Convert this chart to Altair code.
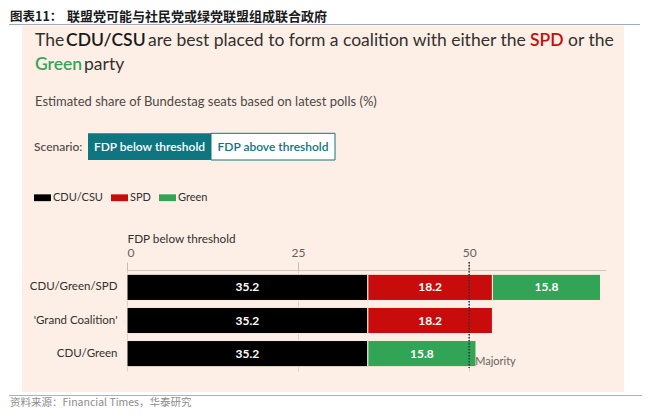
import altair as alt
import pandas as pd

# ---------------- data ----------------
coalitions = ["CDU/Green/SPD", "'Grand Coalition'", "CDU/Green"]
parties = ["CDU/CSU", "SPD", "Green"]
party_colors = ["#000000", "#c80c0c", "#31a456"]
cdu_values = [35.2, 35.2, 35.2]
spd_values = [18.2, 18.2, None]
green_values = [15.8, None, 15.8]
majority = [50]
x_ticks = [0, 25, 50]
x_domain = [0, 70]

rows = []
for i, c in enumerate(coalitions):
    for k, (p, vals) in enumerate(zip(parties, [cdu_values, spd_values, green_values])):
        v = vals[i]
        if v is not None:
            rows.append({"coalition": c, "party": p, "value": v, "order": k})
df = pd.DataFrame(rows)
df_maj = pd.DataFrame({"m": majority})
dummy = pd.DataFrame({"d": [0]})

FONT = "Lato"
CJK = "Noto Sans CJK SC"
INK = "#33302e"
PEACH = "#fdefe6"
TEAL = "#0d7680"

# plot origin in page pixels
OX, OY = 127, 270


def px(x):
    return alt.value(x - OX)


def py(y):
    return alt.value(y - OY)


def txt(s, x, y, size=12, color=INK, weight="normal", font=FONT, align="left", baseline="middle"):
    return alt.Chart(dummy).mark_text(
        text=s, align=align, baseline=baseline, font=font, fontSize=size,
        color=color, fontWeight=weight
    ).encode(x=px(x), y=py(y))


def box(x1, x2, y1, y2, fill, stroke=None):
    kw = dict(fill=fill)
    if stroke:
        kw.update(stroke=stroke, strokeWidth=1)
    else:
        kw.update(strokeWidth=0)
    return alt.Chart(dummy).mark_rect(**kw).encode(x=px(x1), x2=px(x2), y=py(y1), y2=py(y2))


def hline(x1, x2, y, color):
    return alt.Chart(dummy).mark_rule(color=color, strokeWidth=1).encode(
        x=px(x1), x2=px(x2), y=py(y))


# white margins around the peach panel (the background is peach)
margins = [
    box(8, 642, 8, 25.5, "white"),
    box(8, 22, 8, 408, "white"),
    box(624, 642, 8, 408, "white"),
    box(8, 642, 392, 408, "white"),
]

header = [
    hline(9, 640, 24.5, "#9eabc0"),
    hline(9, 642, 395.5, "#aab3c2"),
    txt("图表11：", 10, 17, size=12.5, weight="bold", font=CJK, color="#1a1a1a"),
    txt("联盟党可能与社民党或绿党联盟组成联合政府", 67, 17, size=13, weight="bold", font=CJK, color="#1a1a1a"),
    txt("资料来源：Financial Times，华泰研究", 10, 402.5, size=10.5, font=CJK, color="#8c8c8c"),
]

TS = 17.5
title = [
    txt("The", 35, 45.5, size=TS, baseline="alphabetic"),
    txt("CDU/CSU", 66, 45.5, size=TS, weight=600, baseline="alphabetic", color="#1a1a1a"),
    txt("are best placed to form a coalition with either the", 148, 45.5, size=TS, baseline="alphabetic"),
    txt("SPD", 530, 45.5, size=TS, weight=600, baseline="alphabetic", color="#c80c0c"),
    txt("or the", 568, 45.5, size=TS, baseline="alphabetic"),
    txt("Green", 35, 69.5, size=TS, weight=600, baseline="alphabetic", color="#3aa35a"),
    txt("party", 84, 69.5, size=TS, baseline="alphabetic"),
    txt("Estimated share of Bundestag seats based on latest polls (%)", 35, 101.7, size=13, color="#4d4845"),
]

buttons = [
    txt("Scenario:", 34, 146.7, size=12, weight=500, color="#4d4845"),
    box(88, 211, 133.3, 160, TEAL),
    box(211, 335, 133.3, 160, "white", stroke=TEAL),
    txt("FDP below threshold", 149.5, 146.7, size=12, weight=600, color="white", align="center"),
    txt("FDP above threshold", 273, 146.7, size=12, weight=600, color=TEAL, align="center"),
]

base = alt.Chart(df).transform_stack(
    stack="value", groupby=["coalition"], as_=["x0", "x1"],
    sort=[alt.SortField("order", order="ascending")]
).transform_calculate(mid="(datum.x0 + datum.x1) / 2")

y_enc = alt.Y(
    "coalition:N", sort=coalitions, title=None,
    scale=alt.Scale(paddingInner=0.21, paddingOuter=0.13),
    axis=alt.Axis(labelFont=FONT, labelFontSize=11.5, labelColor=INK, ticks=False,
                  domain=False, labelPadding=10, labelLimit=300, grid=False),
)

bars = base.mark_bar(stroke=PEACH, strokeWidth=1).encode(
    x=alt.X("x0:Q", title="FDP below threshold",
            scale=alt.Scale(domain=x_domain, nice=False),
            axis=alt.Axis(orient="top", values=x_ticks, grid=True, gridColor="#ddd2c8",
                          tickColor="#c6bcb3", tickSize=8, domainColor="#d2c7bd",
                          labelFont=FONT, labelFontSize=12, labelColor="#66605c",
                          labelPadding=3, titleFont=FONT, titleFontSize=11.75,
                          titleFontWeight="normal", titleColor=INK, titleAnchor="start",
                          titleAlign="left", titleX=0, titleY=-32, titleBaseline="middle")),
    x2="x1:Q",
    y=y_enc,
    color=alt.Color("party:N", scale=alt.Scale(domain=parties, range=party_colors),
                    legend=alt.Legend(orient="none", legendX=34 - OX, legendY=189 - OY,
                                      direction="horizontal", title=None,
                                      symbolType="M-1,-0.4H1V0.4H-1Z", symbolSize=289,
                                      symbolStrokeWidth=0, symbolOpacity=1,
                                      labelFont=FONT, labelFontSize=11, labelColor=INK,
                                      labelOffset=2, columnPadding=8, padding=0)),
)

labels = base.mark_text(color="white", font=FONT, fontSize=12, fontWeight="bold",
                        baseline="middle").encode(
    x=alt.X("mid:Q"),
    y=alt.Y("coalition:N", sort=coalitions),
    text=alt.Text("value:Q", format=".1f"),
)

maj_rule = alt.Chart(df_maj).mark_rule(color=INK, strokeWidth=1.5, strokeDash=[1.5, 1.5]).encode(
    x="m:Q", y=py(262), y2=py(368))
maj_text = alt.Chart(df_maj).mark_text(text="Majority", align="left", baseline="middle",
                                        font=FONT, fontSize=11, color="#66605c", dx=6).encode(
    x="m:Q", y=py(362))

chart = alt.layer(
    *margins, *header, *title, *buttons, bars, labels, maj_rule, maj_text
).properties(
    width=479, height=101,
    padding={"left": 119, "top": 262, "right": 36, "bottom": 37},
    autosize=alt.AutoSizeParams(type="none"),
    background=PEACH,
).configure_view(strokeWidth=0)

chart.save("out.html", embed_options={"renderer": "svg", "actions": False})
